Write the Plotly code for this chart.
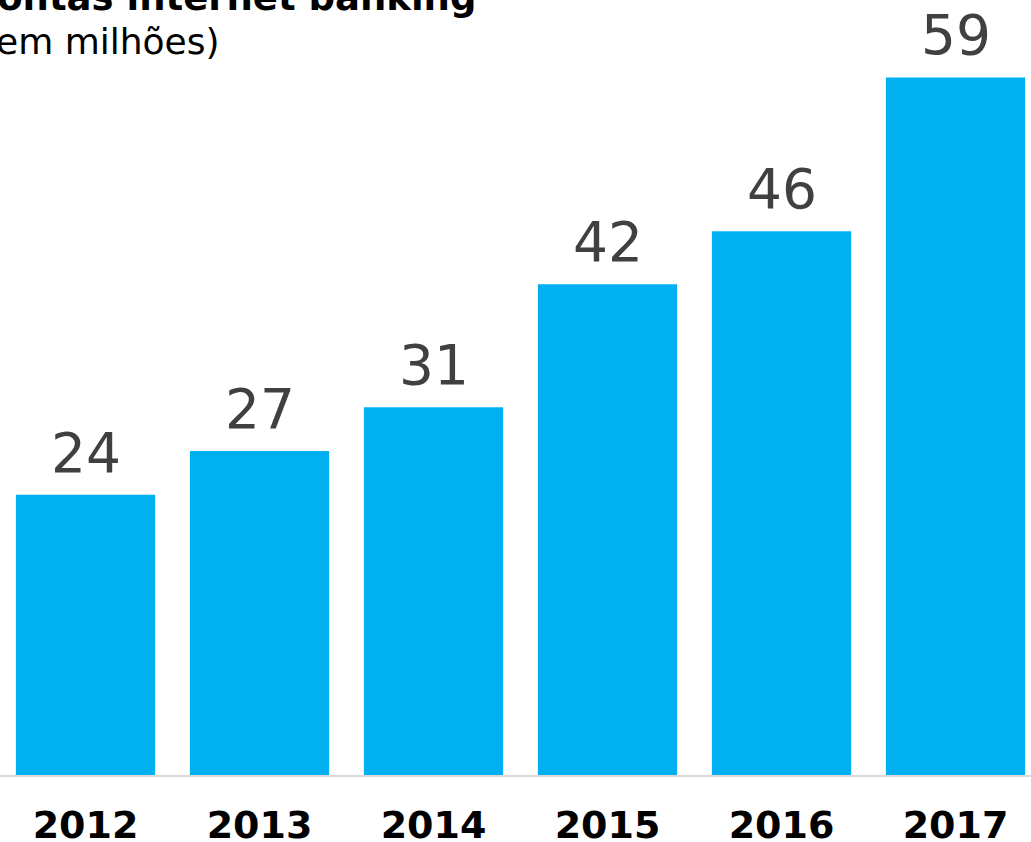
import plotly.graph_objects as go

years = ["2012", "2013", "2014", "2015", "2016", "2017"]
values = [23.7, 27.4, 31.1, 41.5, 46.0, 59.0]
title_main = "Contas internet banking"
title_sub = "(em milhões)"

W, H = 1031, 842
plot_bottom = 775.5

fig = go.Figure()
fig.add_trace(go.Bar(
    x=list(range(len(years))), y=values,
    marker=dict(color="#00B0F0", line=dict(width=0)),
    hoverinfo="skip",
))

for i, v in enumerate(values):
    fig.add_annotation(
        x=i, y=v, xref="x", yref="y", text=f"{v:.0f}", showarrow=False,
        yanchor="bottom", yshift=8,
        font=dict(family="DejaVu Sans", size=55, color="#404040"),
    )

def py(p):
    return 1 - p / plot_bottom

fig.add_annotation(x=478 / W, y=py(-2.5), xref="paper", yref="paper", text=f"<b>{title_main}</b>",
                   showarrow=False, xanchor="right", yanchor="middle",
                   font=dict(family="DejaVu Sans", size=37, color="#000000"))
fig.add_annotation(x=222 / W, y=py(42), xref="paper", yref="paper", text=title_sub,
                   showarrow=False, xanchor="right", yanchor="middle",
                   font=dict(family="DejaVu Sans", size=36, color="#000000"))

fig.update_layout(
    width=W, height=H,
    margin=dict(l=0, r=0, t=0, b=H - plot_bottom),
    plot_bgcolor="white", paper_bgcolor="white",
    bargap=0.2, showlegend=False,
)
fig.update_xaxes(
    range=[-85.5 / 174, (W - 85.5) / 174],
    tickmode="array", tickvals=list(range(len(years))),
    ticktext=[f"<b>{y}</b>" for y in years],
    tickfont=dict(family="DejaVu Sans", size=38, color="#000000"),
    showline=True, linecolor="#d9d9d9", linewidth=2,
    showgrid=False, zeroline=False, ticks="", ticklabelstandoff=15,
    automargin=False,
)
fig.update_yaxes(range=[0, plot_bottom / 11.83], visible=False, showgrid=False,
                 zeroline=False, automargin=False)

fig.write_html("out.html", config={"displayModeBar": False},
               post_script="document.body.style.margin='0px';")
